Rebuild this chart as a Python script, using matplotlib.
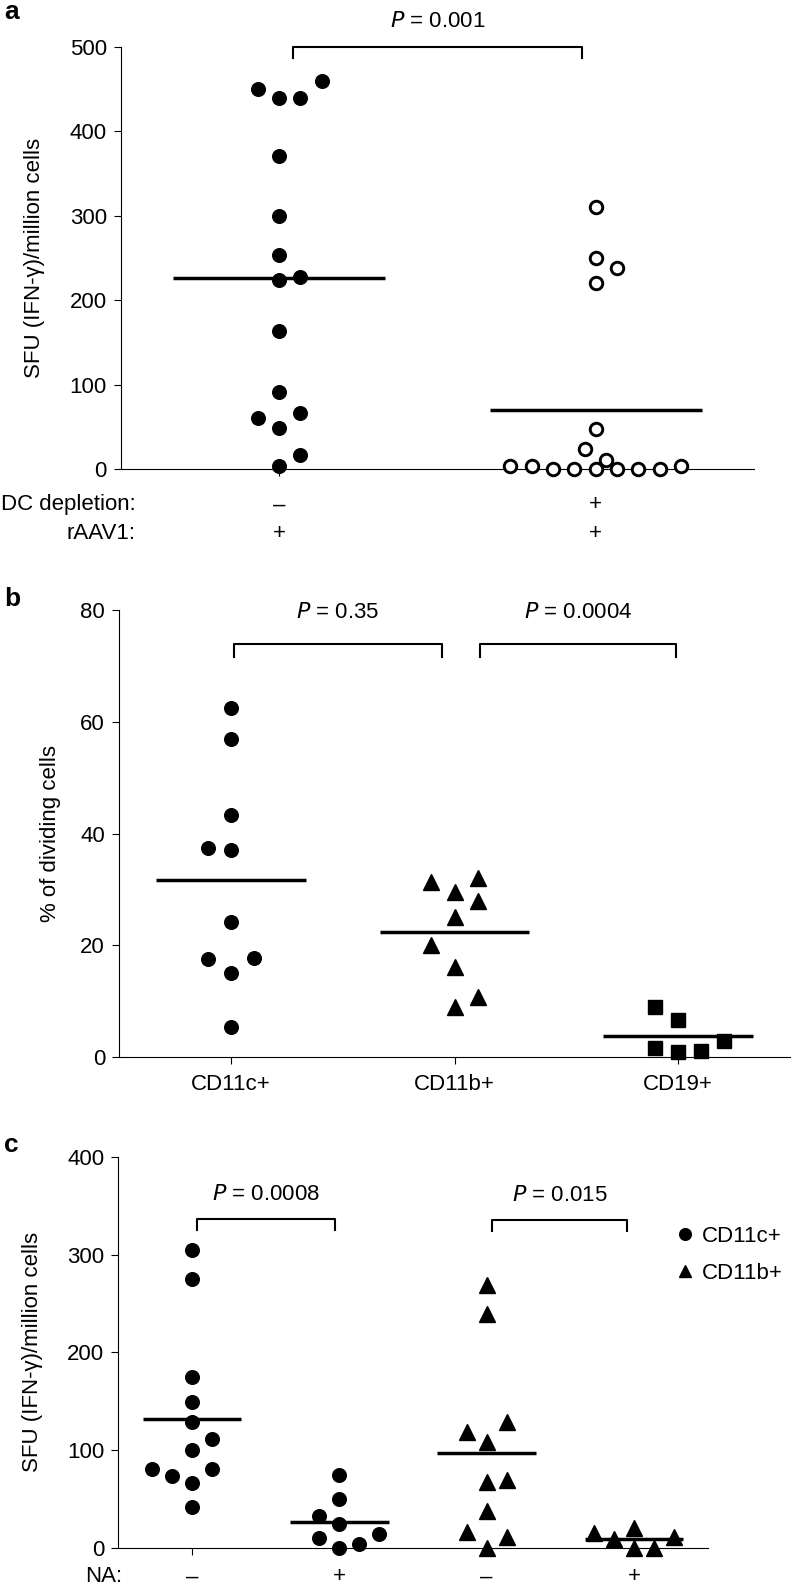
import matplotlib.pyplot as plt
from matplotlib.lines import Line2D
import numpy as np

plt.rcParams['font.family'] = ['Liberation Sans', 'DejaVu Sans']
plt.rcParams['font.size'] = 16

# ---- panel a: SFU with / without DC depletion ----
a_intact = [450, 439, 440, 460, 371, 300, 254, 224, 228, 163, 91, 60, 66, 49, 16, 4]
a_intact_slot = [-1, 0, 1, 2, 0, 0, 0, 0, 1, 0, 0, -1, 1, 0, 1, 0]
a_depleted = [310, 250, 238, 220, 47, 24, 11, 4, 4, 0, 0, 0, 0, 0, 0, 4]
a_depleted_slot = [0, 0, 1, 0, 0, -0.5, 0.5, -4, -3, -2, -1, 0, 1, 2, 3, 4]
a_rows = ['DC depletion:', 'rAAV1:']
a_row_marks = [['\u2013', '+'], ['+', '+']]
a_pvalue = '0.001'

# ---- panel b: % dividing cells ----
b_groups = ['CD11c+', 'CD11b+', 'CD19+']
b_cd11c = [62.5, 56.9, 43.3, 37.4, 37.1, 24.2, 17.5, 17.7, 15.1, 5.3]
b_cd11c_slot = [0, 0, 0, -1, 0, 0, -1, 1, 0, 0]
b_cd11b = [31.4, 32.0, 29.6, 27.9, 25.1, 20.1, 16.1, 10.7, 8.9]
b_cd11b_slot = [-1, 1, 0, 1, 0, -1, 0, 1, 0]
b_cd19 = [8.9, 6.7, 1.7, 0.95, 1.1, 2.9]
b_cd19_slot = [-1, 0, -1, 0, 1, 2]
b_pvalues = ['0.35', '0.0004']

# ---- panel c: SFU, NA -/+ ----
c_cd11c_minus = [304.7, 274.8, 174.7, 149.8, 128.7, 111.6, 100.1, 80.7, 74.2, 80.7, 66.4, 41.9]
c_cd11c_minus_slot = [0, 0, 0, 0, 0, 1, 0, -2, -1, 1, 0, 0]
c_cd11c_plus = [74.9, 50, 33, 24.8, 14.6, 10.2, 4.4, 0]
c_cd11c_plus_slot = [0, 0, -1, 0, 2, -1, 1, 0]
c_cd11b_minus = [268.9, 239.3, 119.1, 129.3, 108.9, 68, 69.8, 38.1, 17, 11.2, 0]
c_cd11b_minus_slot = [0, 0, -1, 1, 0, 0, 1, 0, -1, 1, 0]
c_cd11b_plus = [15.3, 9.2, 20.4, 0, 0, 11.2]
c_cd11b_plus_slot = [-2, -1, 0, 0, 1, 2]
c_na_marks = ['\u2013', '+', '\u2013', '+']
c_pvalues = ['0.0008', '0.015']
c_legend = ['CD11c+', 'CD11b+']

FS = 16
MEAN_HALF = 0.335


def style_axes(ax):
    for s in ['top', 'right']:
        ax.spines[s].set_visible(False)
    for s in ['left', 'bottom']:
        ax.spines[s].set_linewidth(0.8)
    ax.tick_params(axis='y', length=5, width=0.8, pad=5, labelsize=FS)
    ax.tick_params(axis='x', length=5, width=0.8, labelsize=FS)


def scatter_group(ax, pos, values, slots, step, marker, ms, filled=True):
    x = pos + np.array(slots) * step
    if filled:
        ax.plot(x, values, ls='none', marker=marker, ms=ms, color='black',
                clip_on=False, zorder=3)
    else:
        ax.plot(x, values, ls='none', marker=marker, ms=ms, mfc='white',
                mec='black', mew=2.1, clip_on=False, zorder=3)
    m = np.mean(values)
    ax.plot([pos - MEAN_HALF, pos + MEAN_HALF], [m, m], color='black', lw=2.5,
            solid_capstyle='butt', zorder=2)


def bracket(ax, x0, x1, y, drop, text):
    ax.plot([x0, x0, x1, x1], [y - drop, y, y, y - drop], color='black', lw=1.5,
            clip_on=False)
    ax.text((x0 + x1) / 2, y + drop * 2.3, f'$\\it{{P}}$ = {text}', ha='center',
            va='center', fontsize=FS)


fig = plt.figure(figsize=(7.93, 15.9), dpi=100)

# panel a
axa = fig.add_axes([0.1522, 0.70503, 0.7986, 0.2654])
style_axes(axa)
scatter_group(axa, 1, a_intact, a_intact_slot, 0.0675, 'o', 9.8)
scatter_group(axa, 2, a_depleted, a_depleted_slot, 0.0675, 'o', 9.0, filled=False)
axa.set_xlim(0.5, 2.5)
axa.set_ylim(0, 500)
axa.set_yticks([0, 100, 200, 300, 400, 500])
axa.set_xticks([1, 2])
axa.set_xticklabels([])
bracket(axa, 1.043, 1.957, 500, 13, a_pvalue)
for r, (lab, marks) in enumerate(zip(a_rows, a_row_marks)):
    yy = -0.0853 - r * 0.0664
    axa.text(0.548, yy, lab, ha='right', va='center', fontsize=FS,
             transform=axa.get_xaxis_transform())
    for i, mk in enumerate(marks):
        axa.text(i + 1, yy, mk, ha='center', va='center', fontsize=FS,
                 transform=axa.get_xaxis_transform())

# panel b
axb = fig.add_axes([0.15006, 0.33522, 0.8462, 0.28113])
style_axes(axb)
scatter_group(axb, 1, b_cd11c, b_cd11c_slot, 0.103, 'o', 9.8)
scatter_group(axb, 2, b_cd11b, b_cd11b_slot, 0.103, '^', 11)
scatter_group(axb, 3, b_cd19, b_cd19_slot, 0.103, 's', 10.5)
axb.set_xlim(0.5, 3.5)
axb.set_ylim(0, 80)
axb.set_yticks([0, 20, 40, 60, 80])
axb.set_xticks([1, 2, 3])
axb.set_xticklabels(b_groups)
axb.tick_params(axis='x', pad=7)
bracket(axb, 1.012, 1.943, 74, 2.4, b_pvalues[0])
bracket(axb, 2.115, 2.988, 74, 2.4, b_pvalues[1])

# panel c
axc = fig.add_axes([0.1492, 0.02623, 0.7432, 0.24629])
style_axes(axc)
scatter_group(axc, 1, c_cd11c_minus, c_cd11c_minus_slot, 0.136, 'o', 9.8)
scatter_group(axc, 2, c_cd11c_plus, c_cd11c_plus_slot, 0.136, 'o', 9.8)
scatter_group(axc, 3, c_cd11b_minus, c_cd11b_minus_slot, 0.136, '^', 11)
scatter_group(axc, 4, c_cd11b_plus, c_cd11b_plus_slot, 0.136, '^', 11)
axc.set_xlim(0.5, 4.5)
axc.set_ylim(0, 400)
axc.set_yticks([0, 100, 200, 300, 400])
axc.set_xticks([1, 2, 3, 4])
axc.set_xticklabels([])
bracket(axc, 1.036, 1.973, 336, 11, c_pvalues[0])
bracket(axc, 3.036, 3.95, 335, 11, c_pvalues[1])
yy = -0.0733
axc.text(0.525, yy, 'NA:', ha='right', va='center', fontsize=FS,
         transform=axc.get_xaxis_transform())
for i, mk in enumerate(c_na_marks):
    axc.text(i + 1, yy, mk, ha='center', va='center', fontsize=FS,
             transform=axc.get_xaxis_transform())
handles = [Line2D([], [], ls='none', marker='o', ms=8.4, color='black'),
           Line2D([], [], ls='none', marker='^', ms=9.2, color='black')]
axc.legend(handles, c_legend, loc='upper left', bbox_to_anchor=(0.947, 0.823),
           frameon=False, borderpad=0, borderaxespad=0, handlelength=0.8,
           handletextpad=0.36, labelspacing=0.72, fontsize=FS)

# y labels and panel letters
ylab = 'SFU (IFN-\u03b3)/million cells'
fig.text(35 / 793, 1 - 258 / 1590, ylab, rotation=90, ha='center', va='center', fontsize=FS)
fig.text(51 / 793, 1 - 833 / 1590, '% of dividing cells', rotation=90, ha='center',
         va='center', fontsize=FS)
fig.text(33 / 793, 1 - 1352 / 1590, ylab, rotation=90, ha='center', va='center', fontsize=FS)
for lab, ypx in [('a', 12), ('b', 599), ('c', 1145)]:
    fig.text(4 / 793, 1 - ypx / 1590, lab, ha='left', va='center', fontsize=19,
             fontweight='bold')

fig.savefig('out.png', dpi=100)
